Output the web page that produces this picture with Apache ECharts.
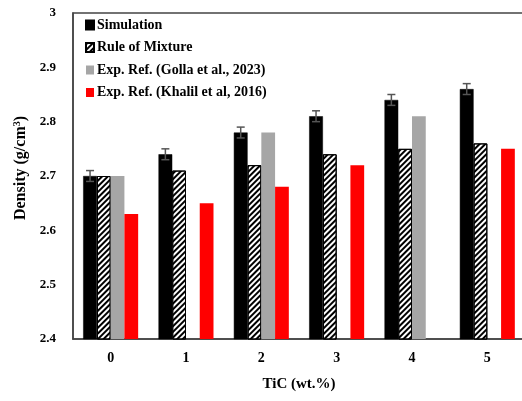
<!DOCTYPE html>
<html><head><meta charset="utf-8">
<script src="https://cdn.jsdelivr.net/npm/echarts@6/dist/echarts.min.js"></script>
<style>html,body{margin:0;padding:0;background:#fff}#c{width:522px;height:401px}</style>
</head><body><div id="c"></div>
<script>
const categories = ['0', '1', '2', '3', '4', '5'];
const simulation = [2.70, 2.74, 2.78, 2.81, 2.84, 2.86];
const simulationErr = [0.01, 0.01, 0.01, 0.01, 0.01, 0.01];
const ruleOfMixture = [2.70, 2.71, 2.72, 2.74, 2.75, 2.76];
const golla = [2.70, null, 2.78, null, 2.81, null];
const khalil = [2.63, 2.65, 2.68, 2.72, null, 2.75];
const yMin = 2.4, yMax = 3, yStep = 0.1;

const GAP = 0.27;
const FONT = 'Liberation Serif';
const chart = echarts.init(document.getElementById('c'), null, {renderer: 'canvas'});
chart.setOption({
  animation: false,
  backgroundColor: '#fff',
  grid: {left: 73, top: 13, right: -3, bottom: 62, show: true, borderColor: '#444', borderWidth: 1.5, outerBoundsMode: 'none', containLabel: false},
  legend: {
    orient: 'vertical', left: 85, top: 18, padding: 0,
    itemWidth: 8, itemHeight: 9, itemGap: 8.5, icon: 'rect',
    textStyle: {fontFamily: FONT, fontWeight: 'bold', fontSize: 14, color: '#000', padding: [0, 0, 0, -2]},
    data: ['Simulation', 'Rule of Mixture', 'Exp. Ref. (Golla et al., 2023)', 'Exp. Ref. (Khalil et al, 2016)']
  },
  xAxis: {
    type: 'category', data: categories,
    axisLine: {show: true, lineStyle: {color: '#444', width: 1.5}},
    axisTick: {show: false},
    axisLabel: {fontFamily: FONT, fontWeight: 'bold', fontSize: 14, color: '#000', margin: 12},
    name: 'TiC (wt.%)', nameLocation: 'middle', nameGap: 38,
    nameTextStyle: {fontFamily: FONT, fontWeight: 'bold', fontSize: 15, color: '#000'}
  },
  yAxis: {
    type: 'value', min: yMin, max: yMax, interval: yStep,
    splitLine: {show: false},
    axisLine: {show: true, lineStyle: {color: '#444', width: 1.5}},
    axisTick: {show: false},
    axisLabel: {fontFamily: FONT, fontWeight: 'bold', fontSize: 13, color: '#000', margin: 17},
    name: '{a|Density (g/cm}{s|3}{a|)}', nameLocation: 'middle', nameGap: 40, nameRotate: 90,
    nameTextStyle: {
      fontFamily: FONT, fontWeight: 'bold', fontSize: 16, color: '#000', padding: [0, 0, 0, 16],
      rich: {
        a: {fontFamily: FONT, fontWeight: 'bold', fontSize: 16, color: '#000'},
        s: {fontFamily: FONT, fontWeight: 'bold', fontSize: 10, color: '#000', verticalAlign: 'top', padding: [0, 0, 7, 0]}
      }
    }
  },
  series: [
    {name: 'Simulation', type: 'bar', data: simulation, barGap: '0%', barCategoryGap: (GAP * 100) + '%',
      itemStyle: {color: '#000', borderColor: '#000', borderWidth: 0.5}},
    {name: 'Rule of Mixture', type: 'bar', data: ruleOfMixture,
      itemStyle: {color: '#fff', borderColor: '#000', borderWidth: 1,
        decal: {symbol: 'rect', symbolSize: 1, dashArrayX: [1, 0], dashArrayY: [1.6, 1.6], rotation: -Math.PI / 4, color: '#000'}}},
    {name: 'Exp. Ref. (Golla et al., 2023)', type: 'bar', data: golla,
      itemStyle: {color: '#a6a6a6'}},
    {name: 'Exp. Ref. (Khalil et al, 2016)', type: 'bar', data: khalil,
      itemStyle: {color: '#ff0000'}},
    {name: 'err', type: 'custom', z: 10,
      data: simulation.map((v, i) => [i, v, simulationErr[i]]),
      renderItem: function (params, api) {
        const c = api.value(0), v = api.value(1), e = api.value(2);
        const bandW = api.size([1, 0])[0];
        const barW = bandW * (1 - GAP) / 4;
        const x = api.coord([c, v])[0] - 1.5 * barW;
        const yT = api.coord([c, v + e])[1], yB = api.coord([c, v - e])[1];
        const cap = 4;
        const st = {stroke: '#555', lineWidth: 1.5};
        return {type: 'group', children: [
          {type: 'line', shape: {x1: x, y1: yT, x2: x, y2: yB}, style: st},
          {type: 'line', shape: {x1: x - cap, y1: yT, x2: x + cap, y2: yT}, style: st},
          {type: 'line', shape: {x1: x - cap, y1: yB, x2: x + cap, y2: yB}, style: st}
        ]};
      }
    }
  ]
});
</script></body></html>
